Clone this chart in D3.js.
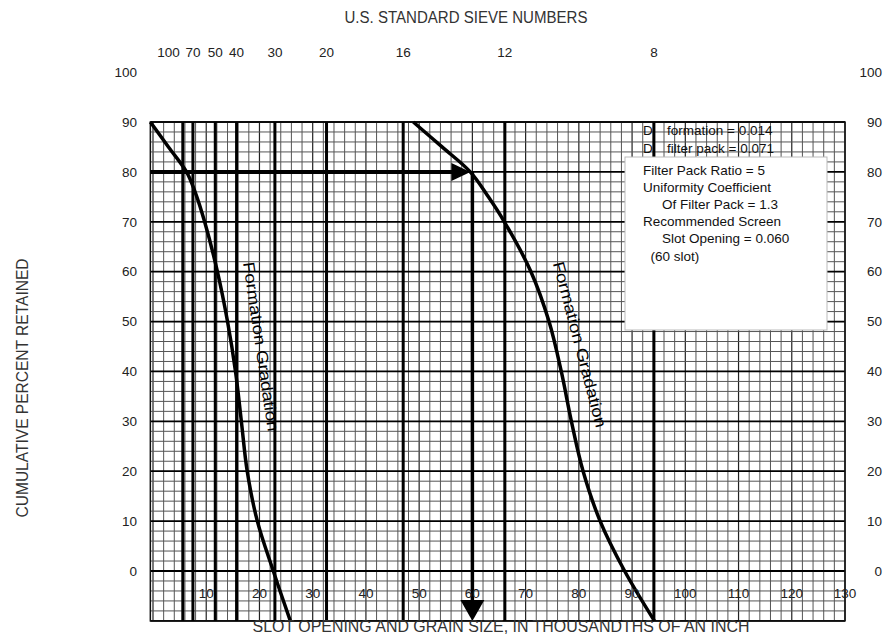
<!DOCTYPE html>
<html>
<head>
<meta charset="utf-8">
<script src="https://cdn.jsdelivr.net/npm/d3@7"></script>
<style>
  body { margin: 0; background: #fff; }
  svg { display: block; font-family: "Liberation Sans", Arial, sans-serif; }
</style>
</head>
<body>
<div id="chart"></div>
<script>
// Data
const sizeTicks = [10, 20, 30, 40, 50, 60, 70, 80, 90, 100, 110, 120, 130];
const pctTicks = [0, 10, 20, 30, 40, 50, 60, 70, 80, 90, 100];
const sieveNumbers = ['100', '70', '50', '40', '30', '20', '16', '12', '8'];
const sieveOpenings = [5.6, 7.5, 11.7, 15.7, 22.9, 32.6, 47.0, 66.1, 94.1];

const formationSize = [-0.5, 2.9, 6.3, 7.9, 9.7, 12.1, 14.0, 15.5, 16.6, 17.7, 19.6, 22.6, 25.8];
const formationPct = [90, 85, 80, 76, 70, 60, 50, 40, 30, 20, 10, 0, -10];
const filterSize = [48.9, 54.3, 59.6, 63.0, 66.0, 71.0, 74.4, 76.7, 78.6, 80.8, 84.0, 88.6, 94.2];
const filterPct = [90, 85, 80, 75, 70, 60, 50, 40, 30, 20, 10, 0, -10];

const arrowPct = 80;
const arrowSize = 60;

const dLabels = ['formation = 0.014', 'filter pack = 0.071'];
const noteLines = ['Filter Pack Ratio = 5', 'Uniformity Coefficient', 'Of Filter Pack = 1.3',
    'Recommended Screen', 'Slot Opening = 0.060', '(60 slot)'];
const noteIndent = [0, 0, 1, 0, 1, 0.4];

const topTitle = 'U.S. STANDARD SIEVE NUMBERS';
const bottomTitle = 'SLOT OPENING AND GRAIN SIZE, IN THOUSANDTHS OF AN INCH';
const leftTitle = 'CUMULATIVE PERCENT RETAINED';
const curveLabel = 'Formation Gradation';

const width = 885, height = 641;

const svg = d3.select('#chart')
    .append('svg')
    .attr('width', width)
    .attr('height', height);

const x = d3.scaleLinear().domain([0, 130]).range([153, 845]);
const y = d3.scaleLinear().domain([0, 90]).range([571, 122]);

const gx0 = x(-0.5), gx1 = x(130), gy0 = y(90), gy1 = y(-10);

// Grid
const grid = svg.append('g');
const vLines = d3.range(0, 131, 2);
const hLines = d3.range(-10, 91, 2);
grid.selectAll('.vgrid')
    .data(vLines)
    .enter()
    .append('line')
    .attr('x1', d => x(d)).attr('x2', d => x(d))
    .attr('y1', gy0).attr('y2', gy1)
    .attr('stroke', d => d % 10 === 0 ? '#222' : '#555')
    .attr('stroke-width', d => d % 10 === 0 ? 1.2 : 1);
grid.selectAll('.hgrid')
    .data(hLines)
    .enter()
    .append('line')
    .attr('x1', gx0).attr('x2', gx1)
    .attr('y1', d => y(d)).attr('y2', d => y(d))
    .attr('stroke', d => d % 10 === 0 ? '#000' : '#555')
    .attr('stroke-width', d => d % 10 === 0 ? 1.8 : 1);
grid.append('rect')
    .attr('x', gx0).attr('y', gy0)
    .attr('width', gx1 - gx0).attr('height', gy1 - gy0)
    .attr('fill', 'none')
    .attr('stroke', '#111')
    .attr('stroke-width', 1.5);

// Sieve lines
svg.selectAll('.sieve')
    .data(sieveOpenings)
    .enter()
    .append('line')
    .attr('x1', d => x(d)).attr('x2', d => x(d))
    .attr('y1', gy0).attr('y2', gy1)
    .attr('stroke', '#000')
    .attr('stroke-width', 3);

// Gradation curves
const line = d3.line()
    .x(d => x(d[0]))
    .y(d => y(d[1]))
    .curve(d3.curveCatmullRom.alpha(0.5));
[d3.zip(formationSize, formationPct), d3.zip(filterSize, filterPct)].forEach(pts => {
    svg.append('path')
        .attr('d', line(pts))
        .attr('fill', 'none')
        .attr('stroke', '#000')
        .attr('stroke-width', 3.5);
});

// Arrows
const ax = x(arrowSize), ay = y(arrowPct);
svg.append('line')
    .attr('x1', gx0).attr('y1', ay)
    .attr('x2', ax - 14).attr('y2', ay)
    .attr('stroke', '#000').attr('stroke-width', 4);
svg.append('path')
    .attr('d', `M${ax - 2},${ay} L${ax - 21},${ay - 9} L${ax - 21},${ay + 9} Z`)
    .attr('fill', '#000');
svg.append('line')
    .attr('x1', ax).attr('y1', ay)
    .attr('x2', ax).attr('y2', gy1 - 15)
    .attr('stroke', '#000').attr('stroke-width', 3.5);
svg.append('path')
    .attr('d', `M${ax},${gy1} L${ax - 12},${gy1 - 21} L${ax + 12},${gy1 - 21} Z`)
    .attr('fill', '#000');

// Curve labels
[[20.3, 45, 81.6], [80.2, 45.4, 75.3]].forEach(p => {
    svg.append('text')
        .attr('transform', `translate(${x(p[0])},${y(p[1])}) rotate(${p[2]})`)
        .attr('text-anchor', 'middle')
        .attr('dy', '0.35em')
        .attr('font-size', 16)
        .attr('textLength', 171)
        .attr('lengthAdjust', 'spacingAndGlyphs')
        .attr('fill', '#000')
        .text(curveLabel);
});

// Note box
svg.append('rect')
    .attr('x', 625).attr('y', 157)
    .attr('width', 202).attr('height', 173)
    .attr('fill', '#fff')
    .attr('stroke', '#bbb')
    .attr('stroke-width', 1);

const dRows = svg.append('g').attr('font-size', 13.5).attr('fill', '#111');
dLabels.forEach((t, i) => {
    dRows.append('text').attr('x', 643).attr('y', 135 + i * 18).text('D');
    dRows.append('text').attr('x', 667).attr('y', 135 + i * 18).text(t);
});
svg.append('g')
    .attr('font-size', 13.5)
    .attr('fill', '#111')
    .selectAll('text')
    .data(noteLines)
    .enter()
    .append('text')
    .attr('x', (d, i) => 643 + noteIndent[i] * 19)
    .attr('y', (d, i) => 175 + i * 17.1)
    .text(d => d);

// Percent labels, both sides
const pctLeft = svg.append('g')
    .attr('transform', 'translate(137,0)')
    .call(d3.axisLeft(y).tickValues(pctTicks).tickSize(0).tickPadding(0));
pctLeft.select('.domain').remove();
pctLeft.selectAll('text').attr('font-size', 13.5).attr('fill', '#222').attr('font-family', null);

svg.append('g')
    .selectAll('text')
    .data(pctTicks)
    .enter()
    .append('text')
    .attr('x', 882)
    .attr('y', d => y(d))
    .attr('dy', '0.35em')
    .attr('text-anchor', 'end')
    .attr('font-size', 13.5)
    .attr('fill', '#222')
    .text(d => d);

// Slot size labels inside the grid
svg.append('g')
    .selectAll('text')
    .data(sizeTicks)
    .enter()
    .append('text')
    .attr('x', d => x(d))
    .attr('y', 598)
    .attr('text-anchor', 'middle')
    .attr('font-size', 13.5)
    .attr('fill', '#222')
    .text(d => d);

// Sieve number labels, pushed left where they would collide
const sieveW = sieveNumbers.map(s => s.length * 7.8);
const sieveX = sieveOpenings.map(d => x(d));
for (let i = sieveX.length - 2; i >= 0; i--) {
    const limit = sieveX[i + 1] - sieveW[i + 1] / 2 - 5;
    if (sieveX[i] + sieveW[i] / 2 > limit) sieveX[i] = limit - sieveW[i] / 2;
}
svg.append('g')
    .selectAll('text')
    .data(sieveNumbers)
    .enter()
    .append('text')
    .attr('x', (d, i) => sieveX[i])
    .attr('y', 57)
    .attr('text-anchor', 'middle')
    .attr('font-size', 13.5)
    .attr('fill', '#222')
    .text(d => d);

// Axis titles
svg.append('text')
    .attr('x', 466).attr('y', 23)
    .attr('text-anchor', 'middle')
    .attr('font-size', 16)
    .attr('textLength', 243)
    .attr('lengthAdjust', 'spacingAndGlyphs')
    .attr('fill', '#333')
    .text(topTitle);
svg.append('text')
    .attr('x', 501).attr('y', 632)
    .attr('text-anchor', 'middle')
    .attr('font-size', 16)
    .attr('textLength', 497)
    .attr('lengthAdjust', 'spacingAndGlyphs')
    .attr('fill', '#333')
    .text(bottomTitle);
svg.append('text')
    .attr('transform', 'translate(28,388) rotate(-90)')
    .attr('text-anchor', 'middle')
    .attr('font-size', 16)
    .attr('textLength', 259)
    .attr('lengthAdjust', 'spacingAndGlyphs')
    .attr('fill', '#333')
    .text(leftTitle);
</script>
</body>
</html>
